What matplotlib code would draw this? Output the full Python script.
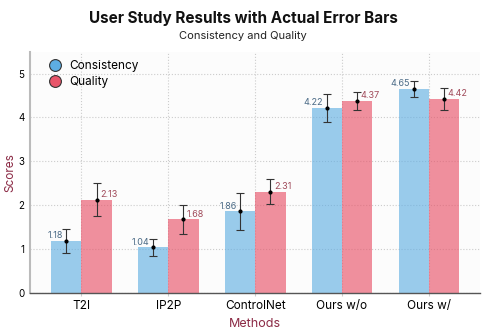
import numpy as np
import matplotlib
matplotlib.use("Agg")
import matplotlib.pyplot as plt
from matplotlib.lines import Line2D

plt.rcParams['font.family'] = ['Inter', 'DejaVu Sans']

# data
methods = ["T2I", "IP2P", "ControlNet", "Ours w/o", "Ours w/"]
consistency = [1.18, 1.04, 1.86, 4.22, 4.65]
quality = [2.13, 1.68, 2.31, 4.37, 4.42]
consistency_err = [0.27, 0.20, 0.42, 0.32, 0.18]
quality_err = [0.37, 0.33, 0.29, 0.20, 0.25]

blue = "#5DADE2"
red = "#E8556A"
blue_txt = "#4A6A86"
red_txt = "#A04A5A"
label_col = "#8B2A45"

fig = plt.figure(figsize=(4.86, 3.33), dpi=100)
ax = fig.add_axes([0.062, 0.12, 0.926, 0.725])
ax.set_facecolor("#fcfcfc")

x = np.arange(len(methods))
w = 0.35
ax.bar(x - w / 2, consistency, w, color=blue, alpha=0.62, zorder=2)
ax.bar(x + w / 2, quality, w, color=red, alpha=0.65, zorder=2)

# thin error bars with small centre dots
ekw = dict(fmt="o", color="black", ms=2, elinewidth=0.8, capsize=2.8,
           capthick=0.8, ecolor="#333333", zorder=3)
ax.errorbar(x - w / 2, consistency, yerr=consistency_err, **ekw)
ax.errorbar(x + w / 2, quality, yerr=quality_err, **ekw)

for xi, v in zip(x, consistency):
    ax.text(xi - w / 2 - 0.04, v + 0.12, f"{v:.2f}", ha="right", va="center",
            fontsize=6.5, color=blue_txt, zorder=4)
for xi, v in zip(x, quality):
    ax.text(xi + w / 2 + 0.04, v + 0.12, f"{v:.2f}", ha="left", va="center",
            fontsize=6.5, color=red_txt, zorder=4)

ax.set_xlim(-0.59, 4.59)
ax.set_ylim(0, 5.5)
ax.set_xticks(x)
ax.set_xticklabels(methods, fontsize=8.5)
ax.set_yticks(range(6))
ax.tick_params(axis="y", labelsize=7, length=0, pad=4)
ax.tick_params(axis="x", length=2, color="#cccccc", pad=3)
ax.grid(True, linestyle=":", color="#cccccc", linewidth=0.8, zorder=0)
ax.set_axisbelow(True)

for s in ["top", "right"]:
    ax.spines[s].set_visible(False)
ax.spines["left"].set_color("#bbbbbb")
ax.spines["left"].set_linewidth(1.5)
ax.spines["bottom"].set_color("#555555")
ax.spines["bottom"].set_linewidth(1.0)

ax.set_ylabel("Scores", fontsize=8.5, color=label_col)
ax.yaxis.set_label_coords(-0.031, 0.5)
ax.set_xlabel("Methods", fontsize=9, color=label_col, labelpad=4)

handles = [
    Line2D([], [], marker="o", ls="", ms=8.5, markerfacecolor=blue,
           markeredgecolor="#333333", markeredgewidth=0.8, label="Consistency"),
    Line2D([], [], marker="o", ls="", ms=8.5, markerfacecolor=red,
           markeredgecolor="#333333", markeredgewidth=0.8, label="Quality"),
]
ax.legend(handles=handles, loc="upper left", frameon=False, fontsize=8.5,
          handletextpad=0.2, labelspacing=0.35, borderaxespad=0.3,
          bbox_to_anchor=(0.01, 1.0))

fig.text(0.5, 0.945, "User Study Results with Actual Error Bars", ha="center",
         va="center", fontsize=11, fontweight="bold", color="#111111")
fig.text(0.5, 0.893, "Consistency and Quality", ha="center", va="center",
         fontsize=8, color="#222222")

fig.savefig("out.png", dpi=100)
